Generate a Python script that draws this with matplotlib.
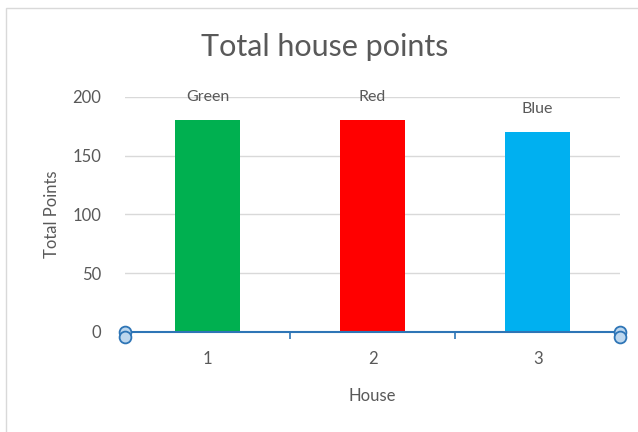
import matplotlib.pyplot as plt
from matplotlib.patches import Rectangle

houses = [1, 2, 3]
points = [180, 180, 170]
names = ['Green', 'Red', 'Blue']
colours = ['#00B050', '#FF0000', '#00B0F0']

plt.rcParams['font.family'] = ['Lato', 'DejaVu Sans']
grey = '#595959'
axblue = '#2E75B6'

fig = plt.figure(figsize=(6.38, 4.32), dpi=100)
ax = fig.add_axes([0.196, 0.2315, 0.776, 0.544])

# chart border
fig.patches.append(Rectangle((6 / 638, -0.05), 1.2, 0.05 + 1 - 8 / 432,
                             transform=fig.transFigure, fill=False,
                             edgecolor='#D9D9D9', lw=1.0))

ax.bar(houses, points, width=0.39, color=colours, zorder=2)
for x, y, n in zip(houses, points, names):
    ax.annotate(n, (x, y), xytext=(0, 12), textcoords='offset points',
                ha='center', va='bottom', fontsize=11.5, color=grey, zorder=3)

ax.set_xlim(0.5, 3.5)
ax.set_ylim(0, 200)
ax.set_yticks([0, 50, 100, 150, 200])
ax.grid(axis='y', color='#D9D9D9', lw=1, zorder=0)
ax.set_axisbelow(True)

for s in ['top', 'right', 'left']:
    ax.spines[s].set_visible(False)
ax.spines['bottom'].set_color(axblue)
ax.spines['bottom'].set_linewidth(1.5)

ax.set_xticks(houses)
ax.set_xticks([1.5, 2.5], minor=True)
ax.tick_params(axis='x', which='major', length=0, labelsize=12, labelcolor=grey, pad=14)
ax.tick_params(axis='x', which='minor', length=5, width=1.2, color=axblue)
ax.tick_params(axis='y', length=0, labelsize=12, labelcolor=grey, pad=17)

ax.set_xlabel('House', fontsize=12, color=grey, labelpad=15)
ax.set_ylabel('Total Points', fontsize=12, color=grey, labelpad=9)
fig.text(325 / 638, 1 - 47 / 432, 'Total house points', fontsize=22,
         color=grey, ha='center', va='center')

# selection handles at the ends of the axis
for xe in [0.5, 3.5]:
    for dy in [0, -4]:
        ax.plot(xe, dy, 'o', ms=8.5, mfc='#BDD7EE', mec=axblue, mew=1.3,
                clip_on=False, zorder=5)

fig.savefig('out.png', dpi=100)
